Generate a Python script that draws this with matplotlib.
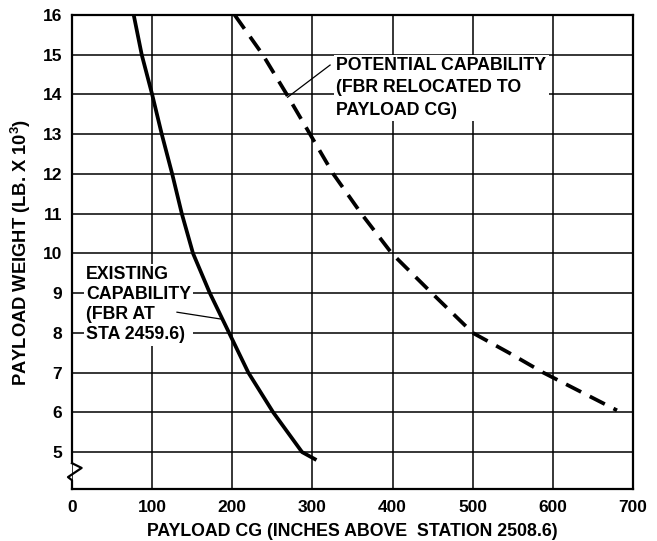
import matplotlib
matplotlib.use("Agg")
import matplotlib.pyplot as plt

plt.rcParams['font.family'] = ['Liberation Sans', 'DejaVu Sans']
plt.rcParams['font.weight'] = 'bold'
plt.rcParams['axes.labelweight'] = 'bold'
plt.rcParams['mathtext.fontset'] = 'custom'
plt.rcParams['mathtext.rm'] = 'Liberation Sans:bold'
plt.rcParams['mathtext.default'] = 'rm'

# existing capability (FBR at STA 2459.6)
existing_cg = [77, 87, 100, 112, 125, 137, 151, 172, 196, 220, 251, 287, 305]
existing_wt = [16, 15, 14, 13, 12, 11, 10, 9, 8, 7, 6, 5, 4.8]

# potential capability (FBR relocated to payload CG)
potential_cg = [203, 238, 268, 297, 326, 361, 399, 449, 500, 545, 588, 680]
potential_wt = [16, 15, 14, 13, 12, 11, 10, 9, 8, 7.5, 7, 6.05]

xticks = [0, 100, 200, 300, 400, 500, 600, 700]
yticks = [5, 6, 7, 8, 9, 10, 11, 12, 13, 14, 15, 16]

fig = plt.figure(figsize=(6.57, 5.41), dpi=100)
ax = fig.add_axes([0.1096, 0.0961, 0.8539, 0.8762])

ax.set_xlim(0, 700)
ax.set_ylim(4.07, 16)
ax.set_xticks(xticks)
ax.set_yticks(yticks)
ax.tick_params(length=0, labelsize=12.5)
ax.tick_params(axis='y', pad=7)
ax.tick_params(axis='x', pad=8)
ax.grid(True, color='black', linewidth=1.1)
ax.set_axisbelow(True)

for s in ax.spines.values():
    s.set_linewidth(1.6)
ax.spines['left'].set_bounds(4.72, 16)

# axis break on the left spine
ax.plot([0, 12, -5, 0, 0], [4.72, 4.6, 4.37, 4.29, 4.07],
        color='black', linewidth=1.6, clip_on=False, zorder=6)

ax.plot(existing_cg, existing_wt, color='black', linewidth=2.7,
        solid_capstyle='butt', solid_joinstyle='round', zorder=4)
ax.plot(potential_cg, potential_wt, color='black', linewidth=2.7,
        linestyle=(0, (4.5, 2.6)), zorder=4)

# leader lines
ax.plot([322, 269], [14.74, 13.93], color='black', linewidth=0.9, zorder=6)
ax.plot([131, 185], [8.52, 8.35], color='black', linewidth=0.9, zorder=6)

box = dict(facecolor='white', edgecolor='none', pad=1.5)
ax.text(330, 14.95, 'POTENTIAL CAPABILITY\n(FBR RELOCATED TO\nPAYLOAD CG)',
        ha='left', va='top', fontsize=12.8, linespacing=1.42,
        bbox=box, zorder=5)
ax.text(17.5, 9.68, 'EXISTING\nCAPABILITY\n(FBR AT\nSTA 2459.6)',
        ha='left', va='top', fontsize=12.8, linespacing=1.24,
        bbox=box, zorder=5)

ax.set_xlabel('PAYLOAD CG (INCHES ABOVE  STATION 2508.6)', fontsize=12.8,
              labelpad=6)
ax.set_ylabel('PAYLOAD WEIGHT (LB. X 10$^3$)', fontsize=13.2, labelpad=7)

fig.savefig('out.png', dpi=100)
